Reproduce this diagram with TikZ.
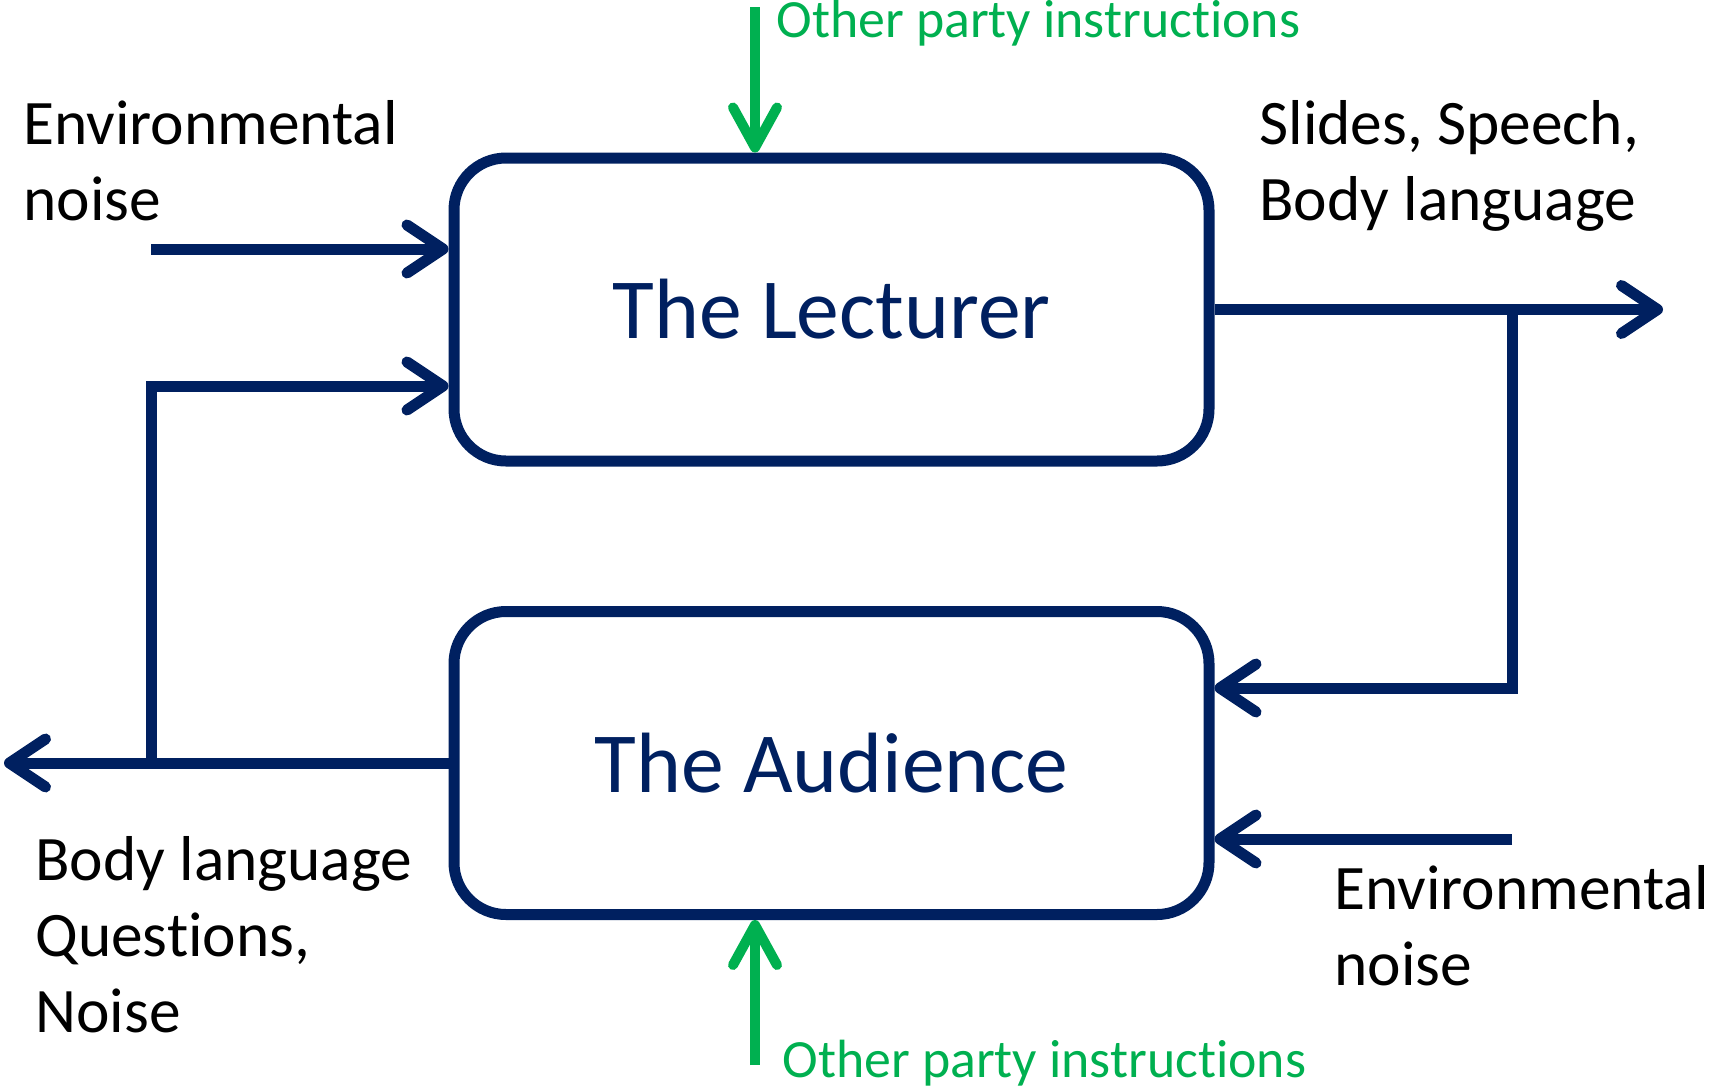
\documentclass[tikz,border=0pt]{standalone}
\usepackage{fontspec}
\setmainfont{Carlito}[Ligatures=NoCommon]
\usetikzlibrary{arrows.meta}
\definecolor{navy}{HTML}{002060}
\definecolor{ogreen}{HTML}{00B050}
\begin{document}
\begin{tikzpicture}[x=0.5pt,y=-0.5pt,
  party/.style={draw=navy, line width=5.5pt, rounded corners=26pt,
    minimum width=377.5pt, minimum height=151.5pt, inner sep=0pt,
    text=navy, font=\fontsize{42.8}{50}\selectfont},
  flow/.style={draw=navy, line width=5.5pt,
    -{Straight Barb[length=18pt,width=24pt,round]}},
  instr/.style={draw=ogreen, line width=5pt,
    -{Straight Barb[length=20pt,width=22pt,round]}},
  lbl/.style={anchor=base west, align=left, inner sep=0pt,
    font=\fontsize{31.7}{38}\selectfont},
  glbl/.style={anchor=base west, inner sep=0pt, text=ogreen,
    font=\fontsize{26.9}{32}\selectfont}]
\useasboundingbox (0,0) rectangle (1713,1088);

% the two parties
\node[party] (L) at (831.5,309.5) {The Lecturer};
\node[party] (A) at (831.5,763) {The Audience};

% free ends of the connectors
\coordinate (en1) at (151,249);
\coordinate (fb)  at (151,386);
\coordinate (fbb) at (151,763);
\coordinate (lo)  at (4,763);
\coordinate (br)  at (1512,309.5);
\coordinate (lout) at (1663,309.5);
\coordinate (ai)  at (1512,688);
\coordinate (en2) at (1512,839);
\coordinate (gt)  at (755,7);
\coordinate (gb)  at (755,1065);

% lecturer inputs and output
\draw[flow] (en1) -- (en1 -| L.west);
\draw[flow] (fbb) -- (fb) -- (fb -| L.west);
\draw[flow] (L.east) -- (lout);
\draw[flow] (br) -- (ai) -- (ai -| A.east);

% audience inputs and output
\draw[flow] (en2) -- (en2 -| A.east);
\draw[flow] (A.west) -- (lo);

% outside instructions
\draw[instr] (gt) -- (gt |- L.north);
\draw[instr] (gb) -- (gb |- A.south);

% labels (anchored on the baseline of their last line)
\node[lbl] (t1) at (23,220) {Environmental\\noise};
\node[lbl] (t2) at (1259,220) {Slides, Speech,\\Body language};
\node[lbl] (t3) at (35,1032) {Body language\\Questions,\\Noise};
\node[lbl] (t4) at (1334,985) {Environmental\\noise};
\node[glbl] (g1) at (776,37) {Other party instructions};
\node[glbl] (g2) at (782,1077) {Other party instructions};
\end{tikzpicture}
\end{document}
